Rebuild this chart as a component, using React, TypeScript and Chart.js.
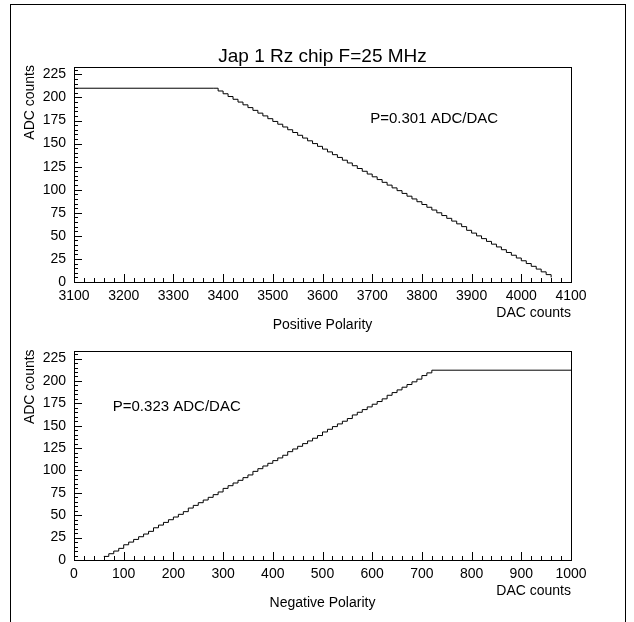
import React, { useEffect, useRef } from "react";
import { Chart, registerables } from "chart.js";

Chart.register(...registerables);

// ---------- data ----------
const topDac = [3100, 3380, 3390, 3400, 3410, 3420, 3430, 3440, 3450, 3460, 3470, 3480, 3490, 3500, 3510, 3520, 3530, 3540, 3550, 3560, 3570, 3580, 3590, 3600, 3610, 3620, 3630, 3640, 3650, 3660, 3670, 3680, 3690, 3700, 3710, 3720, 3730, 3740, 3750, 3760, 3770, 3780, 3790, 3800, 3810, 3820, 3830, 3840, 3850, 3860, 3870, 3880, 3890, 3900, 3910, 3920, 3930, 3940, 3950, 3960, 3970, 3980, 3990, 4000, 4010, 4020, 4030, 4040, 4050, 4060];
const topAdc = [210, 210, 207, 204, 201, 198, 195, 192, 189, 186, 183, 180, 177, 174, 171, 168, 165, 162, 159, 156, 153, 150, 147, 144, 141, 138, 135, 132, 129, 126, 123, 120, 117, 114, 111, 108, 105, 102, 99, 96, 93, 90, 87, 84, 81, 78, 75, 72, 69, 66, 63, 60, 56, 53, 50, 47, 44, 41, 38, 35, 32, 29, 26, 23, 20, 17, 14, 11, 8, 5];

const bottomDac = [60, 70, 80, 90, 100, 110, 120, 130, 140, 150, 160, 170, 180, 190, 200, 210, 220, 230, 240, 250, 260, 270, 280, 290, 300, 310, 320, 330, 340, 350, 360, 370, 380, 390, 400, 410, 420, 430, 440, 450, 460, 470, 480, 490, 500, 510, 520, 530, 540, 550, 560, 570, 580, 590, 600, 610, 620, 630, 640, 650, 660, 670, 680, 690, 700, 710, 720, 1000];
const bottomAdc = [4, 7, 10, 13, 17, 20, 23, 26, 29, 32, 36, 39, 42, 45, 48, 51, 54, 58, 61, 64, 67, 70, 73, 76, 80, 83, 86, 89, 92, 95, 99, 102, 105, 108, 111, 114, 117, 121, 124, 127, 130, 133, 136, 139, 143, 146, 149, 152, 155, 158, 162, 165, 168, 171, 174, 177, 180, 184, 187, 190, 193, 196, 199, 202, 206, 209, 212, 212];

const topXTicks = [3100, 3200, 3300, 3400, 3500, 3600, 3700, 3800, 3900, 4000, 4100];
const bottomXTicks = [0, 100, 200, 300, 400, 500, 600, 700, 800, 900, 1000];
const yTicks = [0, 25, 50, 75, 100, 125, 150, 175, 200, 225];

const FONT = "'Liberation Sans', Arial, Helvetica, sans-serif";

type PadOpts = {
  title?: string;
  yTitle: string;
  xTitle: string;
  subTitle: string;
  note: string;
  noteX: number;
  noteY: number;
  xMinorStep: number;
  yMinorStep: number;
};

const framePlugin = {
  id: "rootFrame",
  afterDraw(chart: any, _args: any, opts: PadOpts) {
    const ctx = chart.ctx as CanvasRenderingContext2D;
    const a = chart.chartArea;
    const xs = chart.scales.x;
    const ys = chart.scales.y;
    const L = Math.round(a.left);
    const R = Math.round(a.right);
    const T = Math.round(a.top);
    const B = Math.round(a.bottom);
    ctx.save();
    ctx.strokeStyle = "#000";
    ctx.lineWidth = 1;
    ctx.strokeRect(L + 0.5, T + 0.5, R - L, B - T);

    ctx.beginPath();
    // x ticks (inward)
    for (let v = xs.min; v <= xs.max + 1e-6; v += opts.xMinorStep) {
      const px = Math.round(xs.getPixelForValue(v)) + 0.5;
      const major = xs.ticks.some((t: any) => Math.abs(t.value - v) < 1e-6);
      const len = major ? 8 : 4;
      ctx.moveTo(px, B);
      ctx.lineTo(px, B - len);
    }
    // y ticks (inward)
    for (let v = 0; v <= ys.max + 1e-6; v += opts.yMinorStep) {
      const py = Math.round(ys.getPixelForValue(v)) + 0.5;
      const major = ys.ticks.some((t: any) => Math.abs(t.value - v) < 1e-6);
      const len = major ? 8 : 4;
      ctx.moveTo(L, py);
      ctx.lineTo(L + len, py);
    }
    ctx.stroke();

    ctx.fillStyle = "#000";
    if (opts.title) {
      ctx.font = `19px ${FONT}`;
      ctx.textAlign = "center";
      ctx.textBaseline = "middle";
      ctx.fillText(opts.title, (a.left + a.right) / 2, a.top - 10);
    }
    // y title, rotated
    ctx.save();
    ctx.translate(30, a.top - 2);
    ctx.rotate(-Math.PI / 2);
    ctx.font = `14px ${FONT}`;
    ctx.textAlign = "right";
    ctx.textBaseline = "middle";
    ctx.fillText(opts.yTitle, 0, 0);
    ctx.restore();

    ctx.font = `14px ${FONT}`;
    ctx.textBaseline = "middle";
    ctx.textAlign = "right";
    ctx.fillText(opts.xTitle, a.right, a.bottom + 31);
    ctx.textAlign = "center";
    ctx.fillText(opts.subTitle, (a.left + a.right) / 2, a.bottom + 43);

    ctx.font = `15px ${FONT}`;
    ctx.textAlign = "left";
    ctx.fillText(opts.note, xs.getPixelForValue(opts.noteX), ys.getPixelForValue(opts.noteY));
    ctx.restore();
  },
};

function makeChart(
  canvas: HTMLCanvasElement,
  dac: number[],
  adc: number[],
  xTicks: number[],
  padTop: number,
  padBottom: number,
  pad: PadOpts
) {
  return new Chart(canvas, {
    type: "line",
    data: {
      datasets: [
        {
          data: dac.map((x, i) => ({ x, y: adc[i] })),
          borderColor: "#000",
          borderWidth: 1,
          pointRadius: 0,
          stepped: true,
          fill: false,
          tension: 0,
        },
      ],
    },
    options: {
      animation: false,
      responsive: false,
      maintainAspectRatio: false,
      layout: { padding: { left: 34, right: 63, top: padTop, bottom: padBottom } },
      plugins: {
        legend: { display: false },
        tooltip: { enabled: false },
        title: { display: false },
        rootFrame: pad,
      } as any,
      scales: {
        x: {
          type: "linear",
          min: xTicks[0],
          max: xTicks[xTicks.length - 1],
          grid: { display: false, drawTicks: false },
          border: { display: false },
          ticks: {
            font: { family: FONT, size: 14 },
            color: "#000",
            padding: 6,
            autoSkip: false,
            maxRotation: 0,
            includeBounds: false,
            callback: (v: any) => String(v),
          },
          afterBuildTicks: (s: any) => {
            s.ticks = xTicks.map((v) => ({ value: v }));
          },
          afterFit: (s: any) => {
            s.height = 30;
          },
        },
        y: {
          type: "linear",
          min: 0,
          max: 233,
          grid: { display: false, drawTicks: false },
          border: { display: false },
          ticks: {
            font: { family: FONT, size: 14 },
            color: "#000",
            padding: 8,
            autoSkip: false,
            includeBounds: false,
            callback: (v: any) => String(v),
          },
          afterBuildTicks: (s: any) => {
            s.ticks = yTicks.map((v) => ({ value: v }));
          },
          afterFit: (s: any) => {
            s.width = 40;
          },
        },
      },
    } as any,
    plugins: [framePlugin],
  });
}

export default function App() {
  const topRef = useRef<HTMLCanvasElement>(null);
  const botRef = useRef<HTMLCanvasElement>(null);

  useEffect(() => {
    const c1 = makeChart(topRef.current!, topDac, topAdc, topXTicks, 67, 23, {
      title: "Jap 1 Rz chip F=25 MHz",
      yTitle: "ADC counts",
      xTitle: "DAC counts",
      subTitle: "Positive Polarity",
      note: "P=0.301 ADC/DAC",
      noteX: 3696,
      noteY: 177,
      xMinorStep: 20,
      yMinorStep: 5,
    });
    const c2 = makeChart(botRef.current!, bottomDac, bottomAdc, bottomXTicks, 10, 32, {
      yTitle: "ADC counts",
      xTitle: "DAC counts",
      subTitle: "Negative Polarity",
      note: "P=0.323 ADC/DAC",
      noteX: 78,
      noteY: 171,
      xMinorStep: 20,
      yMinorStep: 5,
    });
    return () => {
      c1.destroy();
      c2.destroy();
    };
  }, []);

  return (
    <div
      style={{
        position: "fixed",
        left: 0,
        top: 0,
        width: 634,
        height: 622,
        overflow: "hidden",
        background: "#fff",
      }}
    >
      <div
        style={{
          position: "absolute",
          left: 10,
          top: 4,
          width: 616,
          height: 700,
          boxSizing: "border-box",
          border: "1px solid #000",
        }}
      />
      <canvas
        ref={topRef}
        width={634}
        height={335}
        style={{ position: "absolute", left: 0, top: 0, width: 634, height: 335 }}
      />
      <canvas
        ref={botRef}
        width={634}
        height={287}
        style={{ position: "absolute", left: 0, top: 335, width: 634, height: 287 }}
      />
    </div>
  );
}
